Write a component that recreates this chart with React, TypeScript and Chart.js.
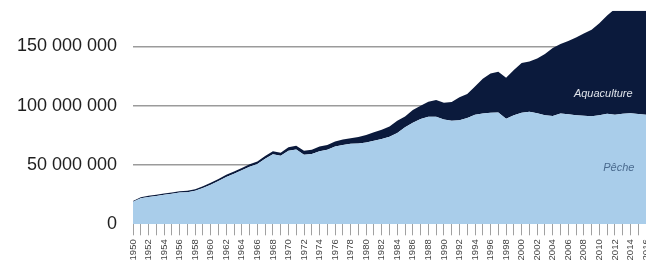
import React, { useEffect, useRef } from "react";
import { Chart, registerables } from "chart.js";

Chart.register(...registerables);

// Years 1950 - 2016
const years: number[] = Array.from({ length: 67 }, (_, i) => 1950 + i);

// Capture fisheries (Pêche), million tonnes
const peche: number[] = [
  19.1, 21.9, 23.0, 23.9, 24.9, 25.8, 26.8, 27.1, 28.2, 30.6,
  33.4, 36.5, 39.9, 42.6, 45.5, 48.4, 50.8, 55.2, 59.0, 57.8,
  62.0, 63.0, 58.6, 59.3, 61.6, 62.8, 65.5, 66.9, 67.8, 68.0,
  69.0, 70.5, 71.8, 73.8, 77.0, 81.7, 85.5, 88.8, 90.6, 90.6,
  88.4, 87.2, 87.6, 89.5, 92.3, 93.4, 94.0, 94.3, 89.0, 91.8,
  94.0, 94.9, 93.5, 91.8, 91.2, 93.4, 92.8, 92.0, 91.4, 91.1,
  92.0, 93.1, 92.3, 93.1, 93.6, 93.0, 92.3,
];

// Aquaculture, million tonnes
const aquaculture: number[] = [
  0.6, 0.8, 1.0, 1.1, 1.0, 1.0, 1.1, 1.2, 1.3, 1.5,
  1.6, 1.7, 1.8, 1.9, 2.0, 2.1, 2.2, 2.3, 2.5, 2.6,
  3.0, 3.2, 3.4, 3.6, 3.9, 4.1, 4.3, 4.5, 4.7, 5.5,
  6.3, 7.0, 7.8, 8.6, 10.3, 9.2, 10.9, 11.0, 12.6, 14.1,
  14.0, 15.8, 19.4, 20.2, 23.9, 29.2, 33.0, 34.2, 34.5, 38.2,
  42.0, 42.3, 46.3, 51.7, 57.3, 58.6, 61.7, 65.5, 69.4, 72.9,
  77.5, 82.9, 89.2, 91.9, 94.4, 97.0, 99.7,
];

const yTicks: number[] = [0, 50000000, 100000000, 150000000];
const yMax = 180000000;

const seriesLabels = { peche: "Pêche", aquaculture: "Aquaculture" };

function fmt(v: number): string {
  return String(Math.round(v)).replace(/\B(?=(\d{3})+(?!\d))/g, " ");
}

const textPlugin = {
  id: "areaLabels",
  afterDatasetsDraw(chart: any) {
    const { ctx, scales } = chart;
    const xs = scales.x;
    const ys = scales.y;
    ctx.save();
    ctx.textAlign = "center";
    ctx.textBaseline = "middle";
    ctx.font = 'italic 11px "Liberation Sans", Arial, sans-serif';
    ctx.fillStyle = "#dfe3ea";
    ctx.fillText(seriesLabels.aquaculture, xs.getPixelForValue(60.5), ys.getPixelForValue(110000000));
    ctx.fillStyle = "#4a6a8e";
    ctx.fillText(seriesLabels.peche, xs.getPixelForValue(62.5), ys.getPixelForValue(47500000));
    ctx.restore();
  },
};

export default function App() {
  const ref = useRef<HTMLCanvasElement | null>(null);

  useEffect(() => {
    if (!ref.current) return;
    const chart = new Chart(ref.current, {
      type: "line",
      data: {
        labels: years.map(String),
        datasets: [
          {
            label: seriesLabels.peche,
            data: peche.map((v) => v * 1e6),
            backgroundColor: "#a9cdea",
            borderWidth: 0,
            pointRadius: 0,
            fill: "origin",
            tension: 0,
          },
          {
            label: seriesLabels.aquaculture,
            data: aquaculture.map((v) => v * 1e6),
            backgroundColor: "#0b1a3c",
            borderWidth: 0,
            pointRadius: 0,
            fill: "-1",
            tension: 0,
          },
        ],
      },
      options: {
        responsive: false,
        animation: false,
        layout: { padding: { top: 10.7, left: 0, right: 0, bottom: 0 } },
        plugins: {
          legend: { display: false },
          tooltip: { enabled: false },
        },
        scales: {
          x: {
            offset: false,
            border: { display: false },
            grid: {
              drawOnChartArea: false,
              drawTicks: true,
              tickLength: 11,
              color: "#a0a0a0",
            },
            ticks: {
              autoSkip: false,
              maxRotation: 90,
              minRotation: 90,
              padding: 4,
              color: "#444",
              font: { family: '"Liberation Sans", Arial, sans-serif', size: 9.5 },
              callback: (_v: any, i: number) => (years[i] % 2 === 0 ? String(years[i]) : ""),
            },
            afterFit: (s: any) => {
              s.height = 261 - 224.3;
              s.paddingLeft = 0;
              s.paddingRight = 0;
              s.paddingTop = 0;
              s.paddingBottom = 0;
            },
          },
          y: {
            stacked: true,
            min: 0,
            max: yMax,
            border: { display: false },
            afterBuildTicks: (s: any) => {
              s.ticks = yTicks.map((v) => ({ value: v }));
            },
            grid: {
              drawTicks: false,
              lineWidth: 1.5,
              color: (c: any) => (c.tick && c.tick.value > 0 ? "#9b9b9b" : "rgba(0,0,0,0)"),
            },
            ticks: {
              padding: 16,
              color: "#1e1e1e",
              font: { family: '"Liberation Sans", Arial, sans-serif', size: 18 },
              callback: (v: any) => fmt(Number(v)),
            },
            afterFit: (s: any) => {
              s.width = 133;
              s.paddingTop = 0;
              s.paddingBottom = 0;
              s.paddingLeft = 0;
              s.paddingRight = 0;
            },
          },
        },
      },
      plugins: [textPlugin],
    });
    return () => chart.destroy();
  }, []);

  return (
    <div style={{ position: "absolute", left: 0, top: 0, width: 646, height: 261, background: "#fff" }}>
      <canvas ref={ref} width={646} height={261} style={{ display: "block" }} />
    </div>
  );
}
